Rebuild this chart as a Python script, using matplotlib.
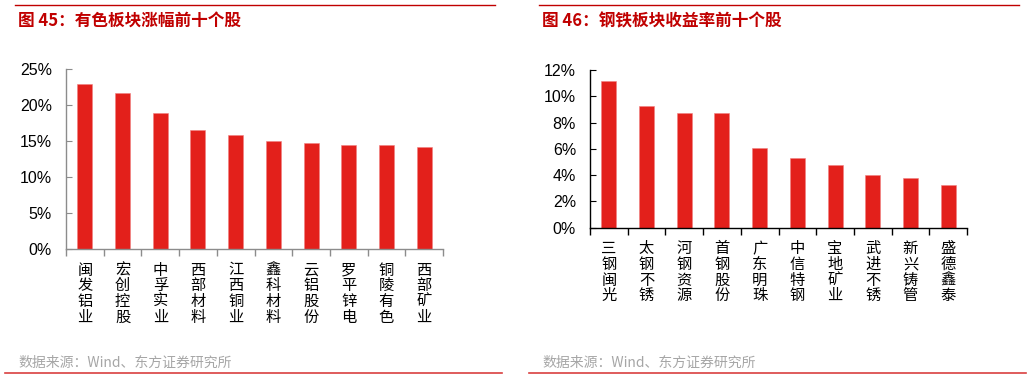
import matplotlib
matplotlib.use("Agg")
from matplotlib import pyplot as plt
from matplotlib.ticker import FuncFormatter, FixedLocator
import numpy as np

plt.rcParams['font.family'] = ['Liberation Sans', 'Noto Sans CJK SC', 'DejaVu Sans']

# 有色板块涨幅前十个股
metalNames = ["闽发铝业", "宏创控股", "中孚实业", "西部材料", "江西铜业",
              "鑫科材料", "云铝股份", "罗平锌电", "铜陵有色", "西部矿业"]
metalValues = [22.9, 21.6, 18.9, 16.5, 15.8, 15.0, 14.7, 14.5, 14.5, 14.2]

# 钢铁板块收益率前十个股
steelNames = ["三钢闽光", "太钢不锈", "河钢资源", "首钢股份", "广东明珠",
              "中信特钢", "宝地矿业", "武进不锈", "新兴铸管", "盛德鑫泰"]
steelValues = [11.2, 9.25, 8.7, 8.7, 6.05, 5.3, 4.75, 4.0, 3.8, 3.25]

barColor = "#E3201B"
redLine = "#C00000"
cjk = ['Noto Sans CJK SC', 'DejaVu Sans']

fig = plt.figure(figsize=(10.32, 3.8), dpi=100)


def drawPanel(rect, names, values, ymax, step, spineColor, title, lineX, botX):
    ax = fig.add_axes(rect)
    n = len(names)
    x = np.arange(n)
    ax.bar(x, values, width=0.4, color=barColor, edgecolor="#F08080", linewidth=0.4)
    ax.set_xlim(-0.5, n - 0.5)
    ax.set_ylim(0, ymax)
    ax.set_yticks(np.arange(0, ymax + 0.01, step))
    ax.yaxis.set_major_formatter(FuncFormatter(lambda v, p: "%d%%" % round(v)))
    for s in ["top", "right"]:
        ax.spines[s].set_visible(False)
    for s in ["left", "bottom"]:
        ax.spines[s].set_color(spineColor)
        ax.spines[s].set_linewidth(1.0)
    # category labels, stacked vertically
    ax.xaxis.set_major_locator(FixedLocator(x))
    ax.set_xticklabels(["\n".join(nm) for nm in names], family=cjk,
                       fontsize=11, linespacing=0.9, va="top")
    ax.tick_params(axis="x", which="major", length=0, pad=9)
    ax.xaxis.set_minor_locator(FixedLocator(np.arange(-0.5, n, 1.0)))
    ax.tick_params(axis="x", which="minor", length=5, direction="out",
                   color=spineColor, width=1.0)
    ax.tick_params(axis="y", length=4, direction="in", color=spineColor,
                   labelsize=11.5, pad=10)
    fig.text(lineX[0] / 1032 + 0.003, 1 - 21 / 380, title, color=redLine,
             fontsize=12, fontweight="bold", family=cjk, va="center")
    fig.add_artist(plt.Line2D([lineX[0] / 1032, lineX[1] / 1032],
                              [1 - 5 / 380, 1 - 5 / 380], color=redLine, lw=1.0))
    fig.add_artist(plt.Line2D([botX[0] / 1032, botX[1] / 1032],
                              [1 - 373 / 380, 1 - 373 / 380], color="#D94040", lw=1.2))
    fig.text(lineX[0] / 1032 + 0.003, 1 - 363 / 380, "数据来源：Wind、东方证券研究所",
             color="#A6A6A6", fontsize=10, family=cjk, va="center")
    return ax


drawPanel([66 / 1032, 131 / 380, 377 / 1032, 180 / 380], metalNames, metalValues,
          25, 5, "#8C8C8C", "图 45：有色板块涨幅前十个股", (15, 495), (5, 502))
drawPanel([590 / 1032, 152.3 / 380, 377 / 1032, 157.7 / 380], steelNames, steelValues,
          12, 2, "#000000", "图 46：钢铁板块收益率前十个股", (539, 1019), (529, 1026))

fig.savefig("out.png", dpi=100)
